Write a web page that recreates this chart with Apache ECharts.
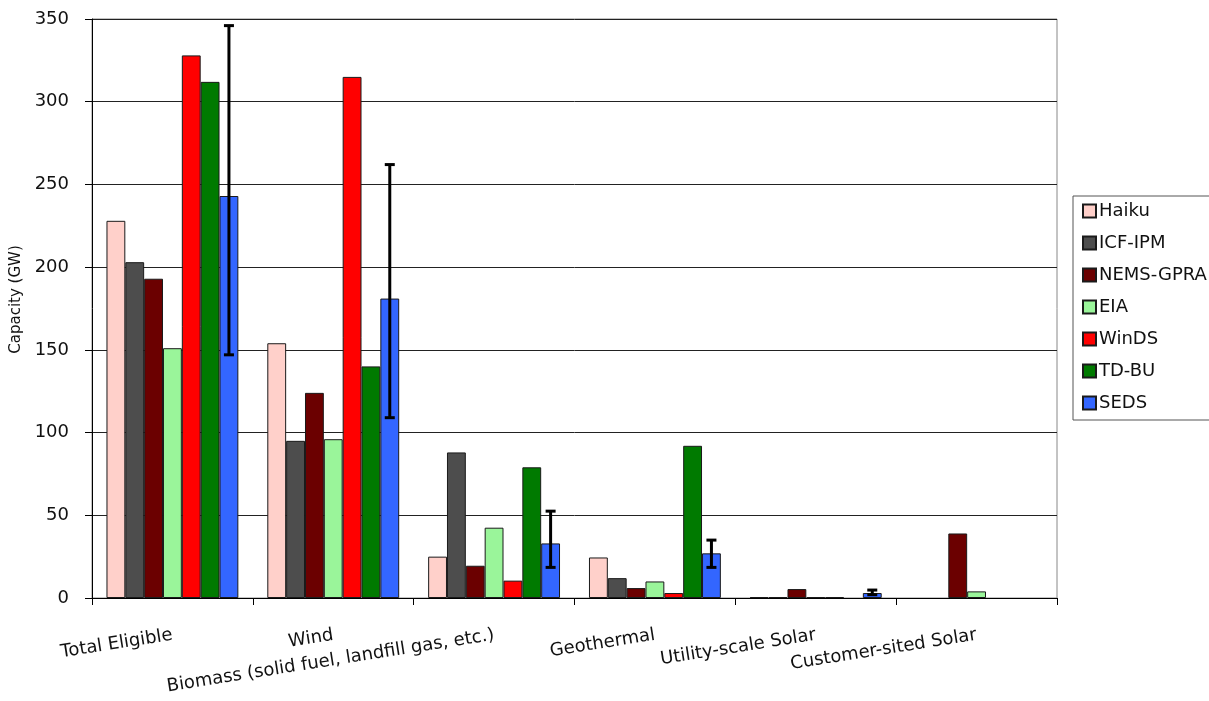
<!DOCTYPE html>
<html>
<head>
<meta charset="utf-8">
<script src="https://cdn.jsdelivr.net/npm/echarts@6/dist/echarts.min.js"></script>
<style>html,body{margin:0;padding:0;background:#fff;}#c{width:1209px;height:701px;}</style>
</head>
<body>
<div id="c"></div>
<script>
const categories = ['Total Eligible', 'Wind', 'Biomass (solid fuel, landfill gas, etc.)', 'Geothermal', 'Utility-scale Solar', 'Customer-sited Solar'];
const yTicks = [0, 50, 100, 150, 200, 250, 300, 350];
const haiku = [228, 154, 25, 24.5, 0.5, null];
const icfIpm = [203, 95, 88, 12, 0.5, null];
const nemsGpra = [193, 124, 19.5, 6, 5.4, 39];
const eia = [151, 96, 42.5, 10, 0.5, 4];
const winds = [328, 315, 10.5, 3, 0.5, null];
const tdBu = [312, 140, 79, 92, null, null];
const seds = [243, 181, 33, 27, 3, null];
const sedsLow = [147, 109, 18.5, 18.5, 2, null];
const sedsHigh = [346, 262, 52.5, 35, 4.8, null];

const seriesNames = ['Haiku', 'ICF-IPM', 'NEMS-GPRA', 'EIA', 'WinDS', 'TD-BU', 'SEDS'];
const seriesValues = [haiku, icfIpm, nemsGpra, eia, winds, tdBu, seds];
const colors = ['#FFD0CA', '#4D4D4D', '#6B0000', '#9AF59A', '#FF0000', '#007A00', '#3366FF'];

const FONT = 'DejaVu Sans';
const GAP = 0.18;

const barSeries = seriesNames.map((n, i) => ({
  name: n,
  type: 'bar',
  data: seriesValues[i],
  barGap: '0%',
  barCategoryGap: '18%',
  itemStyle: { color: colors[i], borderColor: '#1a1a1a', borderWidth: 1 }
}));

const errData = [];
for (let i = 0; i < categories.length; i++) {
  if (sedsLow[i] != null) errData.push([i, sedsLow[i], sedsHigh[i]]);
}

const errSeries = {
  type: 'custom',
  name: 'err',
  z: 10,
  data: errData,
  encode: { x: 0, y: [1, 2] },
  renderItem: function (params, api) {
    const c = api.value(0);
    const lo = api.coord([c, api.value(1)]);
    const hi = api.coord([c, api.value(2)]);
    const band = api.size([1, 0])[0];
    const bw = band * (1 - GAP) / 7;
    const x = lo[0] + 3 * bw;
    const cap = 5;
    const st = { stroke: '#000', lineWidth: 3 };
    return {
      type: 'group',
      children: [
        { type: 'line', shape: { x1: x, y1: lo[1], x2: x, y2: hi[1] }, style: st },
        { type: 'line', shape: { x1: x - cap, y1: lo[1], x2: x + cap, y2: lo[1] }, style: st },
        { type: 'line', shape: { x1: x - cap, y1: hi[1], x2: x + cap, y2: hi[1] }, style: st }
      ]
    };
  }
};

const chart = echarts.init(document.getElementById('c'), null, { renderer: 'canvas' });
chart.setOption({
  animation: false,
  backgroundColor: '#fff',
  grid: { left: 92, right: 152, top: 19, bottom: 103, containLabel: false, outerBoundsMode: 'none', show: true, borderColor: '#888', borderWidth: 1, backgroundColor: 'transparent' },
  legend: {
    data: seriesNames,
    orient: 'vertical',
    left: 1073,
    top: 196,
    itemWidth: 13,
    itemHeight: 13,
    itemGap: 14,
    padding: [6, 4, 8, 9],
    borderColor: '#555',
    borderWidth: 1,
    icon: 'rect',
    textStyle: { fontFamily: FONT, fontSize: 18, color: '#111', padding: [0, 0, 0, -2] }
  },
  xAxis: {
    type: 'category',
    data: categories,
    axisLine: { lineStyle: { color: '#000', width: 1 } },
    axisTick: { show: true, length: 7, lineStyle: { color: '#000' } },
    axisLabel: {
      interval: 0,
      rotate: 9,
      margin: 37,
      fontFamily: FONT,
      fontSize: 18,
      color: '#111'
    }
  },
  yAxis: {
    type: 'value',
    min: 0,
    max: 350,
    interval: 50,
    name: 'Capacity (GW)',
    nameLocation: 'middle',
    nameGap: 67,
    nameTextStyle: { fontFamily: FONT, fontSize: 15, color: '#111', padding: [0, 0, 0, 18] },
    axisLine: { show: true, lineStyle: { color: '#000' } },
    axisTick: { show: true, length: 7, lineStyle: { color: '#000' } },
    axisLabel: {
      margin: 23,
      fontFamily: FONT,
      fontSize: 18,
      color: '#111',
      formatter: function (v) { return yTicks.indexOf(v) >= 0 ? String(v) : ''; }
    },
    splitLine: { lineStyle: { color: '#222', width: 1 } }
  },
  series: barSeries.concat([errSeries])
});
</script>
</body>
</html>
